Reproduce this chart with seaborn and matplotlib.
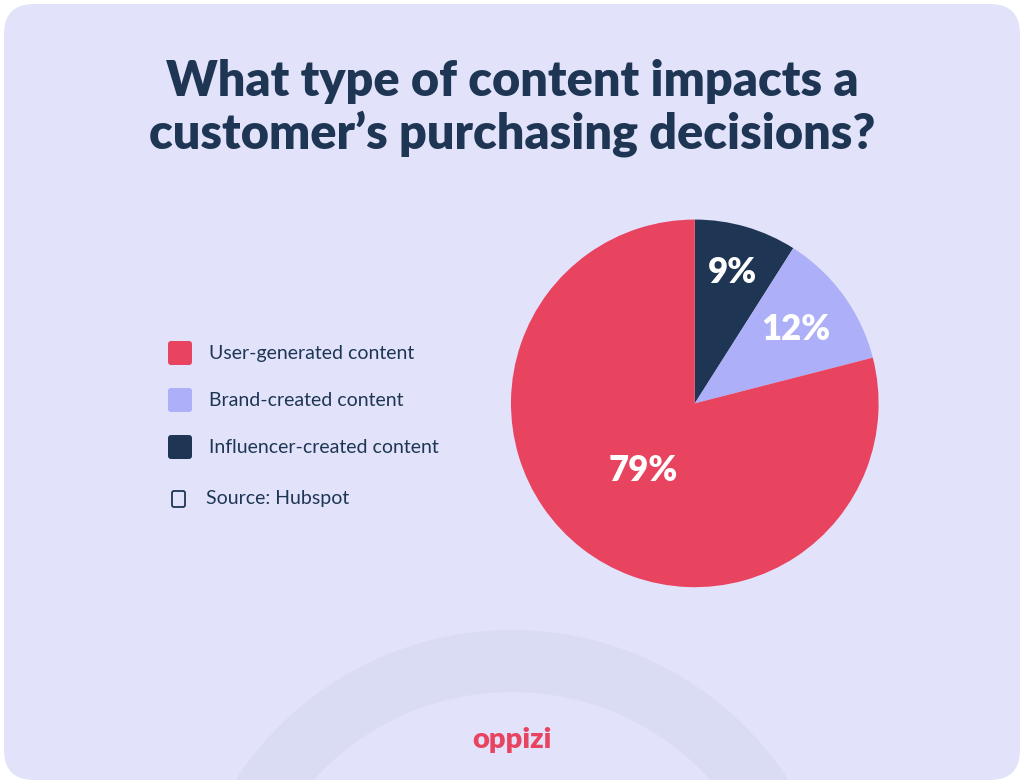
import numpy as np
import matplotlib
matplotlib.use('Agg')
import matplotlib.pyplot as plt
import seaborn as sns
from matplotlib.patches import FancyBboxPatch, Wedge, Rectangle

categories = ['Influencer-created content', 'Brand-created content', 'User-generated content']
shares = [9, 12, 79]
legend_order = ['User-generated content', 'Brand-created content', 'Influencer-created content']
label_radius = [0.74, 0.68, 0.46]

sns.set_theme(style='white')
plt.rcParams['font.family'] = ['Lato', 'DejaVu Sans']

colors = {'User-generated content': '#E8435F', 'Brand-created content': '#ADAFF8',
          'Influencer-created content': '#1E3653'}
navy = '#1E3653'
bg = '#E2E3FA'

fig = plt.figure(figsize=(10.24, 7.84), dpi=100)
fig.patch.set_facecolor('white')

# card background and decorative arc
bgax = fig.add_axes([0, 0, 1, 1], zorder=0)
bgax.set_xlim(0, 1024); bgax.set_ylim(784, 0); bgax.axis('off')
bgax.add_patch(FancyBboxPatch((4, 4), 1016, 776, boxstyle='round,pad=0,rounding_size=30',
                              facecolor=bg, edgecolor='none'))
bgax.add_patch(Wedge((512, 960), 330, 180, 360, width=62, facecolor='#D9DCF3', edgecolor='none'))
bgax.add_patch(Rectangle((0, 780), 1024, 4, facecolor='white', edgecolor='none'))

bgax.text(512, 108, 'What type of content impacts a\ncustomer\u2019s purchasing decisions?',
          ha='center', va='center', fontsize=35, fontweight='heavy', color=navy, linespacing=1.15)

ax = fig.add_axes([0.499, 0.251, 0.359, 0.469], zorder=1)
ax.patch.set_alpha(0)
wedges, _ = ax.pie(shares, colors=[colors[c] for c in categories], startangle=90,
                   counterclock=False, wedgeprops=dict(linewidth=0))
for w, s, r in zip(wedges, shares, label_radius):
    ang = np.deg2rad((w.theta1 + w.theta2) / 2)
    ax.text(r * np.cos(ang), r * np.sin(ang), f'{s}%', ha='center', va='center',
            fontsize=25, fontweight='heavy', color='white')
ax.set_xlim(-1, 1); ax.set_ylim(-1, 1)
ax.set_aspect('equal')

# legend
for i, name in enumerate(legend_order):
    y = 353 + i * 47
    bgax.add_patch(FancyBboxPatch((168, y - 12), 24, 24, boxstyle='round,pad=0,rounding_size=3',
                                  facecolor=colors[name], edgecolor='none'))
    bgax.text(209, y, name, ha='left', va='center', fontsize=14, color=navy)
bgax.add_patch(FancyBboxPatch((172, 491), 13, 16, boxstyle='round,pad=0,rounding_size=2',
                              facecolor='none', edgecolor=navy, linewidth=1.3))
bgax.text(206, 498, 'Source: Hubspot', ha='left', va='center', fontsize=14, color=navy)

bgax.text(512, 740, 'oppizi', ha='center', va='center', fontsize=21, fontweight='heavy',
          color='#E8435F')

fig.savefig('out.png', dpi=100, facecolor=fig.get_facecolor())
